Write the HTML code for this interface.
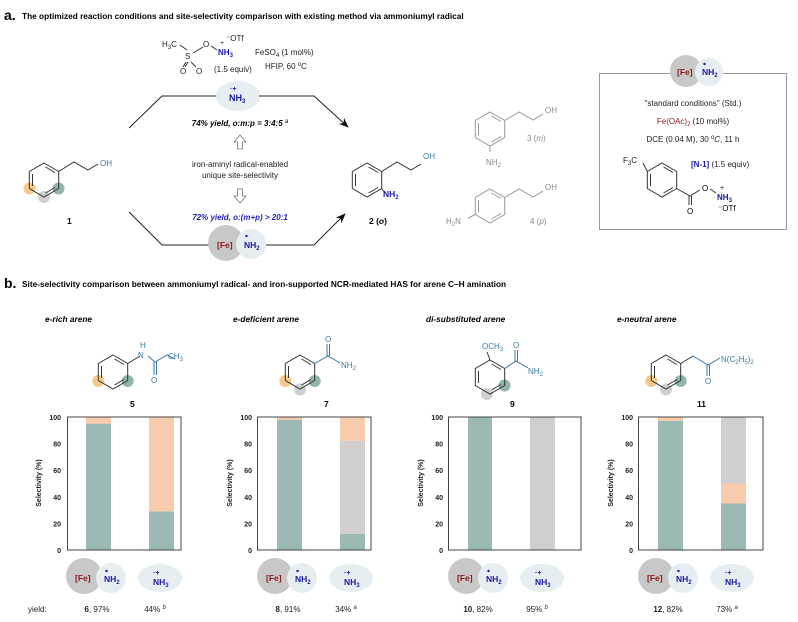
<!DOCTYPE html>
<html><head><meta charset="utf-8"><style>
html,body{margin:0;padding:0;background:#fff}
svg{display:block;font-family:"Liberation Sans",Arial,sans-serif}
.b{font-weight:bold}
</style></head><body>
<svg width="798" height="622" viewBox="0 0 798 622" xmlns="http://www.w3.org/2000/svg">
<defs>
<g id="bz">
<polygon points="0,-17 14.7,-8.5 14.7,8.5 0,17 -14.7,8.5 -14.7,-8.5" fill="none" stroke="#333" stroke-width="1"/>
<line x1="-11.5" y1="-6" x2="-11.5" y2="6" stroke="#333" stroke-width="1"/>
<line x1="1.5" y1="-13" x2="11" y2="-7.5" stroke="#333" stroke-width="1"/>
<line x1="11" y1="7.5" x2="1.5" y2="13" stroke="#333" stroke-width="1"/>
</g>
<g id="bzg">
<polygon points="0,-17 14.7,-8.5 14.7,8.5 0,17 -14.7,8.5 -14.7,-8.5" fill="none" stroke="#999" stroke-width="1"/>
<line x1="-11.5" y1="-6" x2="-11.5" y2="6" stroke="#999" stroke-width="1"/>
<line x1="1.5" y1="-13" x2="11" y2="-7.5" stroke="#999" stroke-width="1"/>
<line x1="11" y1="7.5" x2="1.5" y2="13" stroke="#999" stroke-width="1"/>
</g>
<marker id="ar" markerWidth="10" markerHeight="8" refX="9" refY="4" orient="auto" markerUnits="userSpaceOnUse"><path d="M0,0 L10,4 L0,8 L3,4z" fill="#111"/></marker>
</defs>

<!-- a title -->
<text x="4" y="20" font-size="14" class="b">a.</text>
<text x="22" y="19" font-size="8.3" class="b">The optimized reaction conditions and site-selectivity comparison with existing method via ammoniumyl radical</text>

<!-- reagent -->
<g font-size="8" fill="#222">
<text x="162" y="47">H<tspan font-size="6" dy="2">3</tspan><tspan dy="-2">C</tspan></text>
<line x1="180" y1="45" x2="187" y2="50" stroke="#333"/>
<text x="185" y="59">S</text>
<line x1="193" y1="53" x2="203" y2="47" stroke="#333"/>
<text x="203" y="47">O</text>
<line x1="211" y1="46" x2="217" y2="50" stroke="#333"/>
<text x="218" y="55" fill="#1a1aa6" class="b">NH<tspan font-size="6" dy="2">3</tspan></text>
<text x="220" y="45" font-size="7">+</text>
<text x="226" y="41">⁻OTf</text>
<line x1="186" y1="62" x2="183" y2="67" stroke="#333"/><line x1="188" y1="62" x2="185" y2="67" stroke="#333"/>
<line x1="191" y1="62" x2="196" y2="67" stroke="#333"/>
<text x="180" y="74">O</text><text x="196" y="74">O</text>
<text x="214" y="72">(1.5 equiv)</text>
<text x="255" y="55">FeSO<tspan font-size="6" dy="2">4</tspan><tspan dy="-2"> (1 mol%)</tspan></text>
<text x="265" y="69">HFIP, 60 <tspan font-size="6" dy="-3">o</tspan><tspan dy="3">C</tspan></text>
</g>

<!-- top path -->
<polyline points="129,128 162,96 216,96" fill="none" stroke="#222" stroke-width="1"/>
<ellipse cx="238" cy="96" rx="22" ry="15" fill="#e6eef1"/>
<text x="229" y="101" font-size="9" fill="#1a1aa6" class="b">NH<tspan font-size="6" dy="2">3</tspan></text>
<text x="230" y="91" font-size="7" fill="#1a1aa6" class="b">·+</text>
<polyline points="259,96 314,96 348,127" fill="none" stroke="#222" stroke-width="1" marker-end="url(#ar)"/>
<text x="240" y="126" font-size="8" class="b" font-style="italic" text-anchor="middle">74% yield, o:m:p = 3:4:5 <tspan font-size="6" dy="-3" font-weight="normal">a</tspan></text>
<!-- hollow arrows -->
<path d="M240,135 l-6,7 h3.5 v7 h5 v-7 h3.5z" fill="#fff" stroke="#777" stroke-width="0.8"/>
<text x="240" y="167" font-size="8" text-anchor="middle" fill="#222">iron-aminyl radical-enabled</text>
<text x="240" y="178" font-size="8" text-anchor="middle" fill="#222">unique site-selectivity</text>
<path d="M240,203 l-6,-7 h3.5 v-7 h5 v7 h3.5z" fill="#fff" stroke="#777" stroke-width="0.8"/>
<text x="240" y="220" font-size="8" class="b" font-style="italic" fill="#2222bb" text-anchor="middle">72% yield, o:(m+p) &gt; 20:1</text>
<!-- bottom path -->
<polyline points="129,212 162,245 212,245" fill="none" stroke="#222" stroke-width="1"/>
<circle cx="226" cy="243" r="18" fill="#c8c8c8"/>
<circle cx="251" cy="244" r="15" fill="#e6eef1"/>
<text x="217" y="248" font-size="8.5" fill="#8b1a1a" class="b">[Fe]</text>
<text x="244" y="248" font-size="8.5" fill="#1a1aa6" class="b">NH<tspan font-size="6" dy="2">2</tspan></text>
<circle cx="246.5" cy="236" r="1.2" fill="#1a1aa6"/>
<polyline points="266,245 314,245 345,214" fill="none" stroke="#222" stroke-width="1" marker-end="url(#ar)"/>

<!-- compound 1 -->
<circle cx="29.5" cy="188.5" r="6" fill="#f6c98b"/>
<circle cx="44" cy="197" r="6" fill="#cfcfcf"/>
<circle cx="58.5" cy="188.5" r="6" fill="#8fb5ad"/>
<use href="#bz" x="44" y="180"/>
<polyline points="58.7,171.5 74,162 88,170 98,164" fill="none" stroke="#333"/>
<text x="100" y="166" font-size="8" fill="#3b7aa0">OH</text>
<text x="67" y="224" font-size="8.5" class="b">1</text>

<!-- compound 2 -->
<use href="#bz" x="367" y="180"/>
<polyline points="381.7,171.5 397,162 411,170 421,164" fill="none" stroke="#333"/>
<text x="423" y="159" font-size="8" fill="#3b7aa0">OH</text>
<line x1="381.7" y1="188.5" x2="385" y2="193" stroke="#333"/>
<text x="383" y="197" font-size="8.5" fill="#1a1aa6" class="b">NH<tspan font-size="6" dy="2">2</tspan></text>
<text x="369" y="224" font-size="8.5" class="b">2 (<tspan font-style="italic">o</tspan>)</text>

<!-- compound 3 -->
<use href="#bzg" x="490" y="129"/>
<polyline points="504.7,120.5 519,112 533,120 543,114" fill="none" stroke="#999"/>
<text x="545" y="113" font-size="8" fill="#888">OH</text>
<line x1="490" y1="146" x2="490" y2="152" stroke="#999"/>
<text x="486" y="165" font-size="8" fill="#888">NH<tspan font-size="6" dy="2">2</tspan></text>
<text x="527" y="141" font-size="8" fill="#888">3 (<tspan font-style="italic">m</tspan>)</text>

<!-- compound 4 -->
<use href="#bzg" x="490" y="206" transform="rotate(0)"/>
<polyline points="504.7,197.5 519,189 533,197 543,191" fill="none" stroke="#999"/>
<text x="545" y="190" font-size="8" fill="#888">OH</text>
<line x1="475.3" y1="214.5" x2="468" y2="218" stroke="#999"/>
<text x="446" y="224" font-size="8" fill="#888">H<tspan font-size="6" dy="2">2</tspan><tspan dy="-2">N</tspan></text>
<text x="530" y="224" font-size="8" fill="#888">4 (<tspan font-style="italic">p</tspan>)</text>

<!-- box -->
<rect x="599.5" y="73.5" width="187" height="156" fill="none" stroke="#999" stroke-width="1"/>
<circle cx="686" cy="71" r="16" fill="#c8c8c8"/>
<circle cx="709" cy="72" r="14" fill="#e6eef1"/>
<text x="677" y="75" font-size="8.5" fill="#8b1a1a" class="b">[Fe]</text>
<text x="702" y="75" font-size="8.5" fill="#1a1aa6" class="b">NH<tspan font-size="6" dy="2">2</tspan></text>
<circle cx="704.5" cy="64" r="1.2" fill="#1a1aa6"/>
<g font-size="8" fill="#222" text-anchor="middle">
<text x="693" y="106">"standard conditions" (Std.)</text>
<text x="693" y="124"><tspan fill="#8b1a1a">Fe(OAc)<tspan font-size="6" dy="2">2</tspan></tspan><tspan dy="-2"> (10 mol%)</tspan></text>
<text x="693" y="142">DCE (0.04 M), 30 <tspan font-size="6" dy="-3">o</tspan><tspan dy="3" font-style="italic">C</tspan>, 11 h</text>
</g>
<text x="623" y="163" font-size="8" fill="#222">F<tspan font-size="6" dy="2">3</tspan><tspan dy="-2">C</tspan></text>
<use href="#bz" x="662" y="180"/>
<line x1="643" y1="163" x2="647.3" y2="171.5" stroke="#333"/>
<polyline points="676.7,188.5 690,196 700,190" fill="none" stroke="#333"/>
<line x1="689" y1="196" x2="689" y2="205" stroke="#333"/><line x1="691.5" y1="196" x2="691.5" y2="205" stroke="#333"/>
<text x="687" y="214" font-size="8">O</text>
<text x="702" y="191" font-size="8">O</text>
<line x1="710" y1="189" x2="716" y2="193" stroke="#333"/>
<text x="717" y="200" font-size="8" fill="#1a1aa6" class="b">NH<tspan font-size="6" dy="2">3</tspan></text>
<text x="720" y="190" font-size="7">+</text>
<text x="718" y="211" font-size="8">⁻OTf</text>
<text x="691" y="167" font-size="8" fill="#222"><tspan fill="#1a1aa6" class="b">[N-1]</tspan> (1.5 equiv)</text>

<!-- b title -->
<text x="4" y="288" font-size="14" class="b">b.</text>
<text x="22" y="287" font-size="8.3" class="b">Site-selectivity comparison between ammoniumyl radical- and iron-supported NCR-mediated HAS for arene C–H amination</text>

<g font-size="8.3" class="b" font-style="italic">
<text x="45" y="322">e-rich arene</text>
<text x="233" y="322">e-deficient arene</text>
<text x="426" y="322">di-substituted arene</text>
<text x="617" y="322">e-neutral arene</text>
</g>

<!-- molecule 5 -->
<circle cx="98.3" cy="381" r="6" fill="#f6c98b"/>
<circle cx="127.7" cy="381" r="6" fill="#8fb5ad"/>
<use href="#bz" x="113" y="372"/>
<polyline points="127.7,363.5 140,356" fill="none" stroke="#333"/>
<polyline points="148,356 155,362 167,355 175,359" fill="none" stroke="#3b7aa0"/>
<text x="138" y="358" font-size="8" fill="#3b7aa0">N</text>
<text x="140" y="348" font-size="8" fill="#3b7aa0">H</text>
<line x1="154" y1="362" x2="154" y2="375" stroke="#3b7aa0"/><line x1="156.5" y1="362" x2="156.5" y2="375" stroke="#3b7aa0"/>
<text x="151" y="383" font-size="8" fill="#3b7aa0">O</text>
<text x="168" y="359" font-size="8" fill="#3b7aa0">CH<tspan font-size="6" dy="2">3</tspan></text>
<text x="130" y="407" font-size="8.5" class="b">5</text>

<!-- molecule 7 -->
<circle cx="285.3" cy="381" r="6" fill="#f6c98b"/>
<circle cx="300" cy="389.5" r="6" fill="#cfcfcf"/>
<circle cx="314.7" cy="381" r="6" fill="#8fb5ad"/>
<use href="#bz" x="300" y="372"/>
<polyline points="314.7,363.5 328,356 340,363" fill="none" stroke="#3b7aa0"/>
<line x1="327" y1="356" x2="327" y2="344" stroke="#3b7aa0"/><line x1="329.5" y1="356" x2="329.5" y2="344" stroke="#3b7aa0"/>
<text x="325" y="342" font-size="8" fill="#3b7aa0">O</text>
<text x="341" y="368" font-size="8" fill="#3b7aa0">NH<tspan font-size="6" dy="2">2</tspan></text>
<text x="324" y="407" font-size="8.5" class="b">7</text>

<!-- molecule 9 -->
<circle cx="487" cy="394" r="6" fill="#cfcfcf"/>
<circle cx="504.5" cy="385.5" r="6" fill="#8fb5ad"/>
<use href="#bz" x="490" y="377" transform="translate(0,0)"/>
<line x1="490" y1="360" x2="487" y2="352" stroke="#333"/>
<text x="482" y="349" font-size="8" fill="#3b7aa0">OCH<tspan font-size="6" dy="2">3</tspan></text>
<polyline points="504.7,368.5 516,361 528,368" fill="none" stroke="#3b7aa0"/>
<line x1="515" y1="361" x2="515" y2="350" stroke="#3b7aa0"/><line x1="517.5" y1="361" x2="517.5" y2="350" stroke="#3b7aa0"/>
<text x="513" y="348" font-size="8" fill="#3b7aa0">O</text>
<text x="528" y="374" font-size="8" fill="#3b7aa0">NH<tspan font-size="6" dy="2">2</tspan></text>
<text x="510" y="407" font-size="8.5" class="b">9</text>

<!-- molecule 11 -->
<circle cx="651.3" cy="381" r="6" fill="#f6c98b"/>
<circle cx="666" cy="389.5" r="6" fill="#cfcfcf"/>
<circle cx="680.7" cy="381" r="6" fill="#8fb5ad"/>
<use href="#bz" x="666" y="372"/>
<polyline points="680.7,363.5 693,356" fill="none" stroke="#333"/>
<polyline points="693,356 708,365 720,358" fill="none" stroke="#3b7aa0"/>
<line x1="707" y1="365" x2="707" y2="376" stroke="#3b7aa0"/><line x1="709.5" y1="365" x2="709.5" y2="376" stroke="#3b7aa0"/>
<text x="705" y="384" font-size="8" fill="#3b7aa0">O</text>
<text x="721" y="362" font-size="8" fill="#3b7aa0">N(C<tspan font-size="6" dy="2">2</tspan><tspan dy="-2">H</tspan><tspan font-size="6" dy="2">5</tspan><tspan dy="-2">)</tspan><tspan font-size="6" dy="2">2</tspan></text>
<text x="697" y="407" font-size="8.5" class="b">11</text>

<!-- charts -->
<g font-size="7" class="b" fill="#222" text-anchor="end">
<!-- chart1 -->
<rect x="86" y="423.65" width="25" height="126.35" fill="#9ab9b4"/><rect x="86" y="417" width="25" height="6.65" fill="#f8cbad"/>
<rect x="149" y="511.4" width="25" height="38.6" fill="#9ab9b4"/><rect x="149" y="417" width="25" height="94.4" fill="#f8cbad"/>
<rect x="67.5" y="417" width="113.5" height="133" fill="none" stroke="#444" stroke-width="1"/>
<!-- chart2 -->
<rect x="277" y="419.7" width="25" height="130.3" fill="#9ab9b4"/><rect x="277" y="417" width="25" height="2.7" fill="#f8cbad"/>
<rect x="340" y="534" width="25" height="16" fill="#9ab9b4"/><rect x="340" y="440.9" width="25" height="93.1" fill="#d0cece"/><rect x="340" y="417" width="25" height="23.9" fill="#f8cbad"/>
<rect x="257.5" y="417" width="113.5" height="133" fill="none" stroke="#444" stroke-width="1"/>
<!-- chart3 -->
<rect x="468" y="417" width="24" height="133" fill="#9ab9b4"/>
<rect x="530" y="417" width="25" height="133" fill="#d0cece"/>
<rect x="448.5" y="417" width="132.5" height="133" fill="none" stroke="#444" stroke-width="1"/>
<!-- chart4 -->
<rect x="658" y="421" width="25" height="129" fill="#9ab9b4"/><rect x="658" y="417" width="25" height="4" fill="#f8cbad"/>
<rect x="721" y="503.5" width="25" height="46.5" fill="#9ab9b4"/><rect x="721" y="483.5" width="25" height="20" fill="#f8cbad"/><rect x="721" y="417" width="25" height="66.5" fill="#d0cece"/>
<rect x="638.5" y="417" width="124.5" height="133" fill="none" stroke="#444" stroke-width="1"/>

<text x="61" y="420">100</text><text x="61" y="446.6">80</text><text x="61" y="473.2">60</text><text x="61" y="499.8">40</text><text x="61" y="526.4">20</text><text x="61" y="553">0</text>
<text x="252" y="420">100</text><text x="252" y="446.6">80</text><text x="252" y="473.2">60</text><text x="252" y="499.8">40</text><text x="252" y="526.4">20</text><text x="252" y="553">0</text>
<text x="443" y="420">100</text><text x="443" y="446.6">80</text><text x="443" y="473.2">60</text><text x="443" y="499.8">40</text><text x="443" y="526.4">20</text><text x="443" y="553">0</text>
<text x="633" y="420">100</text><text x="633" y="446.6">80</text><text x="633" y="473.2">60</text><text x="633" y="499.8">40</text><text x="633" y="526.4">20</text><text x="633" y="553">0</text>
</g>
<g font-size="7" class="b" fill="#222" text-anchor="middle">
<text transform="translate(41,483) rotate(-90)">Selectivity (%)</text>
<text transform="translate(232,483) rotate(-90)">Selectivity (%)</text>
<text transform="translate(423,483) rotate(-90)">Selectivity (%)</text>
<text transform="translate(613,483) rotate(-90)">Selectivity (%)</text>
</g>

<!-- icons row -->
<g id="ic1">
<circle cx="84" cy="576" r="18" fill="#c8c8c8"/>
<circle cx="111" cy="578" r="15" fill="#e6eef1"/>
<text x="75" y="581" font-size="8.5" fill="#8b1a1a" class="b">[Fe]</text>
<text x="104" y="582" font-size="8.5" fill="#1a1aa6" class="b">NH<tspan font-size="6" dy="2">2</tspan></text>
<circle cx="106.5" cy="571" r="1.2" fill="#1a1aa6"/>
<ellipse cx="160" cy="578" rx="22" ry="14" fill="#e6eef1"/>
<text x="153" y="585" font-size="8.5" fill="#1a1aa6" class="b">NH<tspan font-size="6" dy="2">3</tspan></text>
<text x="153" y="575" font-size="7" fill="#1a1aa6" class="b">·+</text>
</g>
<use href="#ic1" x="191"/>
<use href="#ic1" x="382"/>
<use href="#ic1" x="572"/>

<g font-size="8" fill="#222">
<text x="28" y="612">yield:</text>
<text x="97" y="612" text-anchor="middle"><tspan class="b">6</tspan>, 97%</text>
<text x="155" y="612" text-anchor="middle">44% <tspan font-size="6" dy="-3" font-style="italic">b</tspan></text>
<text x="288" y="612" text-anchor="middle"><tspan class="b">8</tspan>, 91%</text>
<text x="346" y="612" text-anchor="middle">34% <tspan font-size="6" dy="-3" font-style="italic">a</tspan></text>
<text x="478" y="612" text-anchor="middle"><tspan class="b">10</tspan>, 82%</text>
<text x="537" y="612" text-anchor="middle">95% <tspan font-size="6" dy="-3" font-style="italic">b</tspan></text>
<text x="668" y="612" text-anchor="middle"><tspan class="b">12</tspan>, 82%</text>
<text x="727" y="612" text-anchor="middle">73% <tspan font-size="6" dy="-3" font-style="italic">a</tspan></text>
</g>
</svg>
</body></html>
